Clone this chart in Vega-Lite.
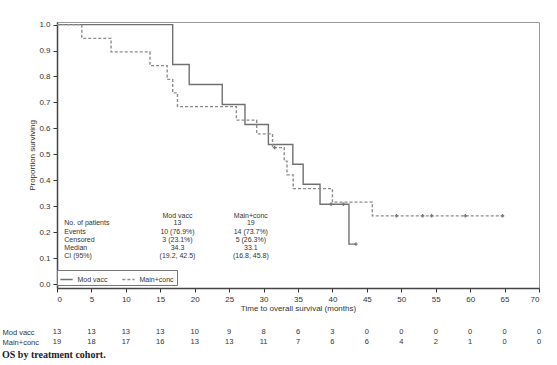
{
  "$schema": "https://vega.github.io/schema/vega-lite/v6.json",
  "padding": {"left": 2, "top": 20, "right": 5, "bottom": 5},
  "background": "white",
  "config": {
    "font": "Liberation Sans",
    "view": {"stroke": null},
    "concat": {"spacing": 14}
  },
  "title": {
    "text": "OS by treatment cohort.",
    "orient": "bottom",
    "anchor": "start",
    "font": "Liberation Serif",
    "fontSize": 10,
    "fontWeight": "bold",
    "color": "#222",
    "offset": 3
  },
  "datasets": {
    "km": [
      {"group": "Mod vacc", "t": 0, "s": 1},
      {"group": "Mod vacc", "t": 16.8, "s": 0.846},
      {"group": "Mod vacc", "t": 19.2, "s": 0.769},
      {"group": "Mod vacc", "t": 24.0, "s": 0.692},
      {"group": "Mod vacc", "t": 27.3, "s": 0.615},
      {"group": "Mod vacc", "t": 30.7, "s": 0.538},
      {"group": "Mod vacc", "t": 34.25, "s": 0.462},
      {"group": "Mod vacc", "t": 35.75, "s": 0.385},
      {"group": "Mod vacc", "t": 38.2, "s": 0.308},
      {"group": "Mod vacc", "t": 42.4, "s": 0.154},
      {"group": "Mod vacc", "t": 43.4, "s": 0.154},
      {"group": "Main+conc", "t": 0, "s": 1},
      {"group": "Main+conc", "t": 3.6, "s": 0.947},
      {"group": "Main+conc", "t": 7.85, "s": 0.895},
      {"group": "Main+conc", "t": 13.5, "s": 0.842},
      {"group": "Main+conc", "t": 16.0, "s": 0.789},
      {"group": "Main+conc", "t": 16.8, "s": 0.737},
      {"group": "Main+conc", "t": 17.5, "s": 0.684},
      {"group": "Main+conc", "t": 26.05, "s": 0.632},
      {"group": "Main+conc", "t": 29.0, "s": 0.579},
      {"group": "Main+conc", "t": 31.3, "s": 0.526},
      {"group": "Main+conc", "t": 33.0, "s": 0.474},
      {"group": "Main+conc", "t": 33.4, "s": 0.421},
      {"group": "Main+conc", "t": 34.3, "s": 0.368},
      {"group": "Main+conc", "t": 40.0, "s": 0.316},
      {"group": "Main+conc", "t": 45.8, "s": 0.263},
      {"group": "Main+conc", "t": 64.9, "s": 0.263}
    ],
    "censor": [
      {"group": "Mod vacc", "t": 39.8, "s": 0.308},
      {"group": "Mod vacc", "t": 41.6, "s": 0.308},
      {"group": "Mod vacc", "t": 43.4, "s": 0.154},
      {"group": "Main+conc", "t": 31.6, "s": 0.526},
      {"group": "Main+conc", "t": 49.3, "s": 0.263},
      {"group": "Main+conc", "t": 53.1, "s": 0.263},
      {"group": "Main+conc", "t": 54.4, "s": 0.263},
      {"group": "Main+conc", "t": 59.3, "s": 0.263},
      {"group": "Main+conc", "t": 64.7, "s": 0.263}
    ],
    "statLabels": [
      {"t": 1.06, "s": 0.234, "label": "No. of patients"},
      {"t": 1.06, "s": 0.202, "label": "Events"},
      {"t": 1.06, "s": 0.170, "label": "Censored"},
      {"t": 1.06, "s": 0.138, "label": "Median"},
      {"t": 1.06, "s": 0.107, "label": "CI (95%)"}
    ],
    "statValues": [
      {"t": 17.5, "s": 0.261, "label": "Mod vacc"},
      {"t": 17.5, "s": 0.234, "label": "13"},
      {"t": 17.5, "s": 0.202, "label": "10 (76.9%)"},
      {"t": 17.5, "s": 0.170, "label": "3 (23.1%)"},
      {"t": 17.5, "s": 0.138, "label": "34.3"},
      {"t": 17.5, "s": 0.107, "label": "(19.2, 42.5)"},
      {"t": 28.15, "s": 0.261, "label": "Main+conc"},
      {"t": 28.15, "s": 0.234, "label": "19"},
      {"t": 28.15, "s": 0.202, "label": "14 (73.7%)"},
      {"t": 28.15, "s": 0.170, "label": "5 (26.3%)"},
      {"t": 28.15, "s": 0.138, "label": "33.1"},
      {"t": 28.15, "s": 0.107, "label": "(16.8, 45.8)"}
    ],
    "risk": [
      {"group": "Mod vacc", "t": 0, "n": 13},
      {"group": "Mod vacc", "t": 5, "n": 13},
      {"group": "Mod vacc", "t": 10, "n": 13},
      {"group": "Mod vacc", "t": 15, "n": 13},
      {"group": "Mod vacc", "t": 20, "n": 10},
      {"group": "Mod vacc", "t": 25, "n": 9},
      {"group": "Mod vacc", "t": 30, "n": 8},
      {"group": "Mod vacc", "t": 35, "n": 6},
      {"group": "Mod vacc", "t": 40, "n": 3},
      {"group": "Mod vacc", "t": 45, "n": 0},
      {"group": "Mod vacc", "t": 50, "n": 0},
      {"group": "Mod vacc", "t": 55, "n": 0},
      {"group": "Mod vacc", "t": 60, "n": 0},
      {"group": "Mod vacc", "t": 65, "n": 0},
      {"group": "Mod vacc", "t": 70, "n": 0},
      {"group": "Main+conc", "t": 0, "n": 19},
      {"group": "Main+conc", "t": 5, "n": 18},
      {"group": "Main+conc", "t": 10, "n": 17},
      {"group": "Main+conc", "t": 15, "n": 16},
      {"group": "Main+conc", "t": 20, "n": 13},
      {"group": "Main+conc", "t": 25, "n": 13},
      {"group": "Main+conc", "t": 30, "n": 11},
      {"group": "Main+conc", "t": 35, "n": 7},
      {"group": "Main+conc", "t": 40, "n": 6},
      {"group": "Main+conc", "t": 45, "n": 6},
      {"group": "Main+conc", "t": 50, "n": 4},
      {"group": "Main+conc", "t": 55, "n": 2},
      {"group": "Main+conc", "t": 60, "n": 1},
      {"group": "Main+conc", "t": 65, "n": 0},
      {"group": "Main+conc", "t": 70, "n": 0}
    ]
  },
  "vconcat": [
    {
      "width": 482,
      "height": 266,
      "view": {"stroke": "#999", "strokeWidth": 1},
      "encoding": {
        "x": {
          "field": "t",
          "type": "quantitative",
          "scale": {"domain": [0, 70], "nice": false, "zero": false},
          "axis": {
            "values": [0, 5, 10, 15, 20, 25, 30, 35, 40, 45, 50, 55, 60, 65, 70],
            "title": "Time to overall survival (months)",
            "titleFontSize": 8,
            "titleFontWeight": "normal",
            "titleColor": "#333",
            "titlePadding": 1,
            "labelFontSize": 8,
            "labelColor": "#333",
            "tickColor": "#333",
            "tickSize": 4,
            "labelPadding": 3,
            "domainColor": "#444",
            "domainWidth": 1.5,
            "grid": false
          }
        },
        "y": {
          "field": "s",
          "type": "quantitative",
          "scale": {"domain": [-0.015, 1.01], "nice": false, "zero": false},
          "axis": {
            "values": [0, 0.1, 0.2, 0.3, 0.4, 0.5, 0.6, 0.7, 0.8, 0.9, 1.0],
            "format": ".1f",
            "title": "Proportion surviving",
            "titleFontSize": 8,
            "titleFontWeight": "normal",
            "titleColor": "#333",
            "titlePadding": 2,
            "labelFontSize": 8,
            "labelColor": "#333",
            "tickColor": "#333",
            "tickSize": 4,
            "labelPadding": 3,
            "domainColor": "#444",
            "domainWidth": 1.5,
            "grid": false
          }
        }
      },
      "layer": [
        {
          "data": {"name": "km"},
          "mark": {"type": "line", "interpolate": "step-after", "strokeWidth": 1.4},
          "encoding": {
            "color": {
              "field": "group",
              "type": "nominal",
              "scale": {"domain": ["Mod vacc", "Main+conc"], "range": ["#707070", "#8c8c8c"]},
              "legend": {
                "title": null,
                "orient": "none",
                "legendX": 0,
                "legendY": 248,
                "direction": "horizontal",
                "symbolType": "stroke",
                "symbolSize": 150,
                "symbolStrokeWidth": 1.3,
                "labelFontSize": 7,
                "labelColor": "#333",
                "labelOffset": 4,
                "columnPadding": 12,
                "padding": 2.5,
                "strokeColor": "#777",
                "fillColor": "white"
              }
            },
            "strokeDash": {
              "field": "group",
              "type": "nominal",
              "scale": {"domain": ["Mod vacc", "Main+conc"], "range": [[1, 0], [3, 2]]},
              "legend": {
                "title": null,
                "orient": "none",
                "legendX": 0,
                "legendY": 248,
                "direction": "horizontal",
                "symbolType": "stroke",
                "symbolSize": 150,
                "symbolStrokeWidth": 1.3,
                "labelFontSize": 7,
                "labelColor": "#333",
                "labelOffset": 4,
                "columnPadding": 12,
                "padding": 2.5,
                "strokeColor": "#777",
                "fillColor": "white"
              }
            }
          }
        },
        {
          "data": {"name": "censor"},
          "mark": {"type": "point", "shape": "cross", "filled": true, "size": 12, "color": "#777", "opacity": 1}
        },
        {
          "data": {"name": "statLabels"},
          "mark": {"type": "text", "align": "left", "baseline": "middle", "fontSize": 7, "color": "#333"},
          "encoding": {"text": {"field": "label"}}
        },
        {
          "data": {"name": "statValues"},
          "mark": {"type": "text", "align": "center", "baseline": "middle", "fontSize": 7, "color": "#333"},
          "encoding": {"text": {"field": "label"}}
        }
      ]
    },
    {
      "width": 482,
      "height": 20,
      "data": {"name": "risk"},
      "mark": {"type": "text", "align": "center", "baseline": "middle", "fontSize": 7.5, "color": "#333"},
      "encoding": {
        "x": {
          "field": "t",
          "type": "quantitative",
          "scale": {"domain": [0, 70], "nice": false, "zero": false},
          "axis": null
        },
        "y": {
          "field": "group",
          "type": "nominal",
          "scale": {"type": "point", "domain": ["Mod vacc", "Main+conc"], "padding": 0.5},
          "axis": {
            "title": null,
            "domain": false,
            "ticks": false,
            "tickSize": 0,
            "labelAlign": "left",
            "labelPadding": 55,
            "labelFontSize": 7.5,
            "labelColor": "#333"
          }
        },
        "text": {"field": "n", "type": "quantitative"}
      }
    }
  ]
}
